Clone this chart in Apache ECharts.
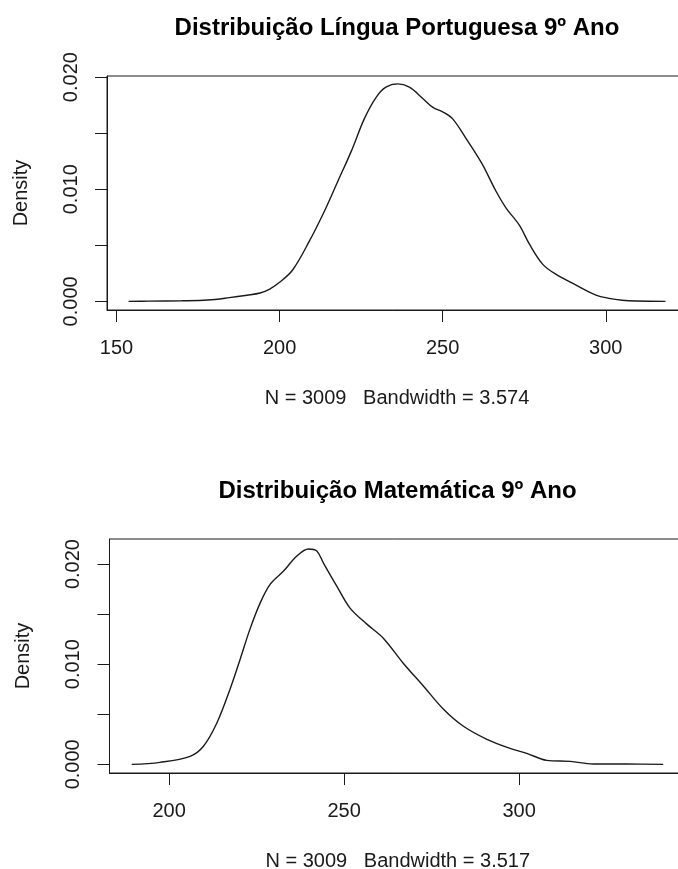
<!DOCTYPE html>
<html>
<head>
<meta charset="utf-8">
<script src="https://cdn.jsdelivr.net/npm/echarts@6/dist/echarts.min.js"></script>
<style>
  html, body { margin: 0; padding: 0; background: #fff; }
  #chart { width: 678px; height: 869px; }
</style>
</head>
<body>
<div id="chart"></div>
<script>
// Língua Portuguesa 9º Ano - densidade estimada
const lpX = [153.7, 160, 170, 178, 184.6, 190, 194, 197, 200, 204, 209, 214, 218, 222, 226, 229.6, 232.6, 236.2, 239.8, 243.9, 247, 250, 253, 257, 262, 266.4, 269.5, 273.5, 276.6, 280.7, 284.8, 290.9, 297, 301, 305, 309.3, 318.3]
const lpDensity = [0, 0.00002, 0.00005, 0.00012, 0.00033, 0.00055, 0.00075, 0.0011, 0.0017, 0.0028, 0.0053, 0.0082, 0.0108, 0.0134, 0.0163, 0.0182, 0.0191, 0.0194, 0.0191, 0.0181, 0.0173, 0.0169, 0.0163, 0.0146, 0.0123, 0.0098, 0.0083, 0.0068, 0.0051, 0.0033, 0.0024, 0.00145, 0.00056, 0.00027, 0.0001, 0.00003, 0]

// Matemática 9º Ano
const matX = [189.3, 197.4, 206, 209.8, 213.6, 217.4, 220.3, 223.1, 226, 228.9, 232.7, 236.5, 239.8, 242.2, 244.1, 247.9, 251.7, 256.5, 261.2, 266.9, 272.7, 278.4, 284.1, 290.8, 297.4, 302.2, 307.9, 314.6, 321.2, 330.8, 341.2]
const matDensity = [0, 0.0002, 0.0008, 0.0018, 0.0041, 0.0075, 0.0105, 0.0135, 0.0161, 0.018, 0.0193, 0.0208, 0.0215, 0.0213, 0.0201, 0.0178, 0.0156, 0.014, 0.0126, 0.0101, 0.0078, 0.0055, 0.0038, 0.0025, 0.0016, 0.0011, 0.0004, 0.0003, 0.00003, 0.00003, 0]

const lpXTicks = [150, 200, 250, 300]
const matXTicks = [200, 250, 300]
const yTicks = [0, 0.005, 0.01, 0.015, 0.02]
const yLabels = [0, 0.01, 0.02]

const titles = ['Distribuição Língua Portuguesa 9º Ano', 'Distribuição Matemática 9º Ano']
const subtitles = ['N = 3009   Bandwidth = 3.574', 'N = 3009   Bandwidth = 3.517']

const font = 'Liberation Sans, Arial, Helvetica, sans-serif'
const ink = '#1a1a1a'

const toPairs = (xs, ys) => xs.map((x, i) => [x, ys[i]])

const makeX = (gridIndex, min, max, ticks, name) => ({
  type: 'value',
  gridIndex,
  min,
  max,
  name,
  nameLocation: 'middle',
  nameGap: 78,
  nameTextStyle: { fontFamily: font, fontSize: 20, color: ink },
  splitLine: { show: false },
  axisLine: { show: true, onZero: false, lineStyle: { color: ink, width: 1 } },
  axisTick: { show: true, length: 12, customValues: ticks, lineStyle: { color: ink } },
  axisLabel: {
    customValues: ticks,
    margin: 28,
    fontFamily: font,
    fontSize: 20,
    color: ink
  }
})

const makeY = (gridIndex, min, max) => ({
  type: 'value',
  gridIndex,
  min,
  max,
  name: 'Density',
  nameLocation: 'middle',
  nameRotate: 90,
  nameGap: 76,
  nameTextStyle: { fontFamily: font, fontSize: 20, color: ink },
  splitLine: { show: false },
  axisLine: { show: true, onZero: false, lineStyle: { color: ink, width: 1 } },
  axisTick: { show: true, length: 12, customValues: yTicks, lineStyle: { color: ink } },
  axisLabel: {
    customValues: yLabels,
    rotate: 90,
    margin: 26,
    fontFamily: font,
    fontSize: 20,
    color: ink,
    formatter: (v) => v.toFixed(3)
  }
})

const chart = echarts.init(document.getElementById('chart'), null, { renderer: 'canvas' })

const option = {
  backgroundColor: '#fff',
  animation: false,
  graphic: [
    {
      type: 'text',
      x: 397,
      y: 28,
      style: { text: titles[0], textAlign: 'center', textVerticalAlign: 'middle', font: 'bold 24px ' + font, fill: '#000' }
    },
    {
      type: 'text',
      x: 397.5,
      y: 491,
      style: { text: titles[1], textAlign: 'center', textVerticalAlign: 'middle', font: 'bold 24px ' + font, fill: '#000' }
    }
  ],
  grid: [
    {
      left: 107, top: 76, width: 580, height: 234,
      containLabel: false, outerBoundsMode: 'none',
      show: true, borderColor: ink, borderWidth: 1, backgroundColor: 'transparent'
    },
    {
      left: 109.5, top: 539, width: 576.5, height: 234,
      containLabel: false, outerBoundsMode: 'none',
      show: true, borderColor: ink, borderWidth: 1, backgroundColor: 'transparent'
    }
  ],
  xAxis: [
    makeX(0, 147.1, 324.9, lpXTicks, subtitles[0]),
    makeX(1, 182.96, 347.7, matXTicks, subtitles[1])
  ],
  yAxis: [
    makeY(0, -0.00077, 0.0201),
    makeY(1, -0.000865, 0.0225)
  ],
  series: [
    {
      type: 'line',
      xAxisIndex: 0,
      yAxisIndex: 0,
      data: toPairs(lpX, lpDensity),
      smooth: 0.35,
      showSymbol: false,
      lineStyle: { color: ink, width: 1.4 }
    },
    {
      type: 'line',
      xAxisIndex: 1,
      yAxisIndex: 1,
      data: toPairs(matX, matDensity),
      smooth: 0.35,
      showSymbol: false,
      lineStyle: { color: ink, width: 1.4 }
    }
  ]
}

chart.setOption(option)
</script>
</body>
</html>
